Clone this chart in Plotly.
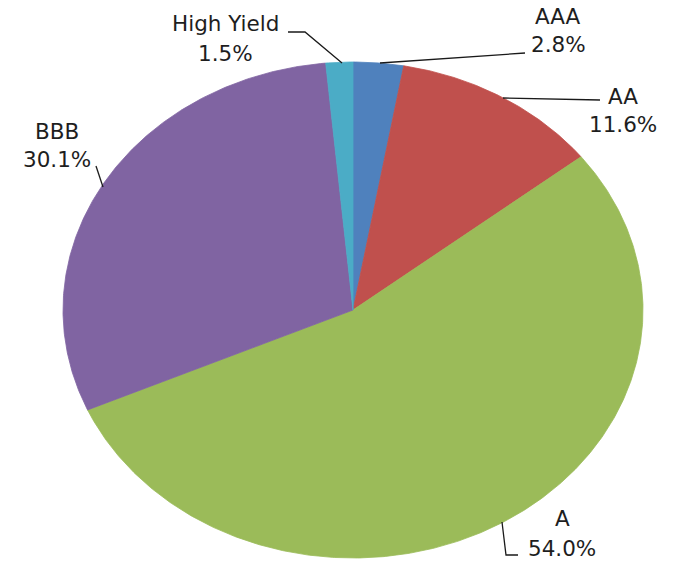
import numpy as np
import plotly.graph_objects as go

# Portfolio split by credit rating, clockwise from 12 o'clock
categories = ["AAA", "AA", "A", "BBB", "High Yield"]
shares = [2.8, 11.6, 54.0, 30.1, 1.5]
colors = ["#4F81BD", "#C0504D", "#9BBB59", "#8064A2", "#4BACC6"]

W, H = 677, 561
# centre and radii of the (horizontally stretched) disc, in pixels
CX, CY, RX, RY = 353, 310, 290, 248

# label centres in pixels: (x, y of name line, y of value line)
label_pos = {
    "AAA": (558, 16, 45),
    "AA": (623, 96, 125),
    "A": (562, 518, 548),
    "BBB": (57, 131, 160),
    "High Yield": (226, 23, 54),
}
# leader lines in pixels
leaders = {
    "AAA": [(380, 63), (525, 53)],
    "AA": [(503, 98), (600, 100)],
    "A": [(502, 522), (506, 555), (518, 555)],
    "BBB": [(96, 166), (103, 187)],
    "High Yield": [(288, 32), (305, 32), (342, 63)],
}


def px_to_data(px, py):
    return (px - CX) / RX, (CY - py) / RY


fig = go.Figure()
total = sum(shares)
start = 0.0
for name, val, col in zip(categories, shares, colors):
    a0 = start / total * 2 * np.pi
    a1 = (start + val) / total * 2 * np.pi
    n = max(3, int(np.ceil((a1 - a0) / (2 * np.pi) * 720)))
    t = np.linspace(a0, a1, n)
    xs = np.concatenate([[0.0], np.sin(t), [0.0]])
    ys = np.concatenate([[0.0], np.cos(t), [0.0]])
    fig.add_trace(go.Scatter(
        x=xs, y=ys, mode="lines", fill="toself", fillcolor=col,
        line=dict(color=col, width=0.8),
        name=name, hoverinfo="text", text=f"{name}: {val:.1f}%",
        showlegend=False,
    ))
    start += val

font = dict(family="DejaVu Sans", size=21.5, color="#1e1e1e")
for name, val in zip(categories, shares):
    lx, ly1, ly2 = label_pos[name]
    for txt, ly in ((name, ly1), (f"{val:.1f}%", ly2)):
        fig.add_annotation(
            x=lx / W, y=1 - ly / H, xref="paper", yref="paper",
            text=txt, showarrow=False, xanchor="center", yanchor="middle",
            font=font,
        )
    pts = [px_to_data(*p) for p in leaders[name]]
    path = "M " + " L ".join(f"{x:.4f},{y:.4f}" for x, y in pts)
    fig.add_shape(type="path", path=path, xref="x", yref="y",
                  line=dict(color="#1a1a1a", width=1.3))

fig.update_xaxes(range=[-CX / RX, (W - CX) / RX], visible=False,
                 showgrid=False, zeroline=False, fixedrange=True)
fig.update_yaxes(range=[-(H - CY) / RY, CY / RY], visible=False,
                 showgrid=False, zeroline=False, fixedrange=True)
fig.update_layout(
    width=W, height=H,
    margin=dict(l=0, r=0, t=0, b=0),
    paper_bgcolor="white", plot_bgcolor="white",
    showlegend=False,
)
fig.write_html("out.html")
